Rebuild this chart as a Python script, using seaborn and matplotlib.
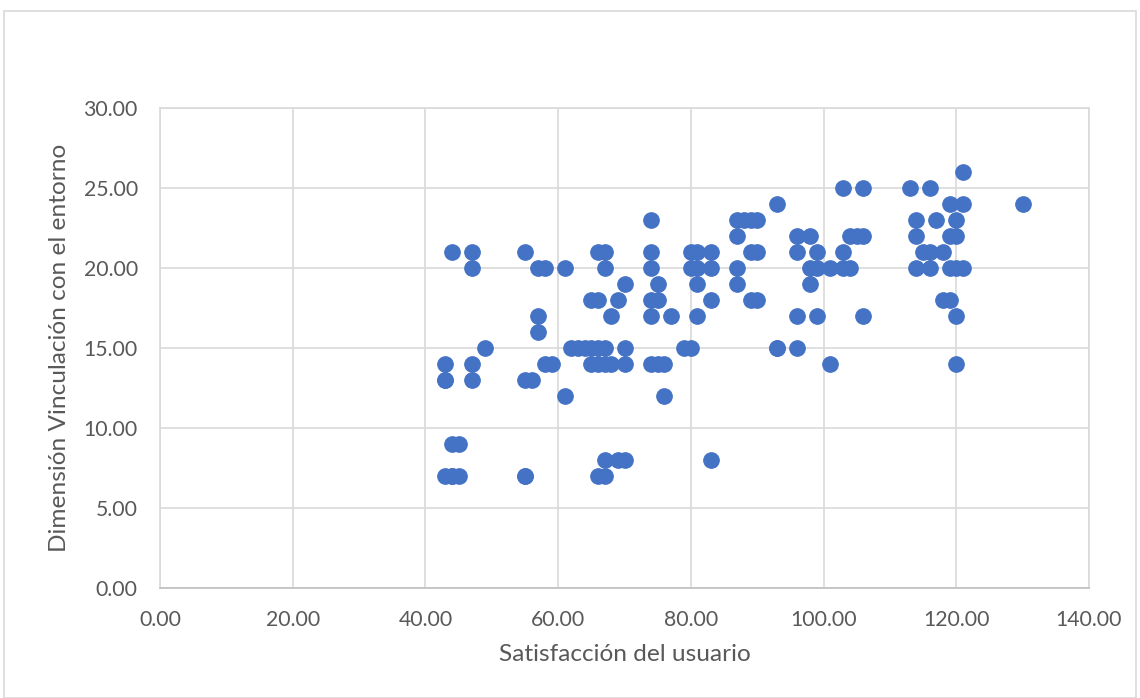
import matplotlib
matplotlib.use("Agg")
import matplotlib.pyplot as plt
import matplotlib.patches as mpatches
from matplotlib.ticker import FormatStrFormatter
import pandas as pd
import seaborn as sns

# Satisfacción del usuario (x) vs. Dimensión Vinculación con el entorno (y)
satisfaccion = [
    43, 43, 43, 44, 44, 45, 43, 44, 45, 44, 47, 47, 47, 47, 49,
    55, 55, 56, 55, 57, 57, 57, 58, 58, 59, 61, 61, 55,
    62, 63, 64, 65, 66, 67, 70, 65, 66, 67, 68, 70,
    66, 67, 67, 65, 66, 68, 69, 70, 66, 67, 67, 69, 70,
    74, 74, 74, 75, 74, 75, 74, 77, 74, 75, 76, 76,
    79, 80, 80, 81, 83, 80, 81, 83, 81, 83, 81, 83,
    87, 88, 89, 90, 87, 89, 90, 87, 87, 89, 90, 93, 93, 93,
    96, 98, 96, 99, 98, 99, 101, 98, 96, 99, 96, 101,
    103, 106, 104, 105, 106, 103, 103, 104, 106,
    113, 116, 121, 119, 121, 130, 114, 117, 120, 114, 119, 120,
    115, 116, 118, 114, 116, 119, 120, 121, 118, 119, 120, 120,
]
vinculacion = [
    14, 13, 7, 7, 9, 9, 13, 7, 7, 21, 21, 20, 14, 13, 15,
    13, 21, 13, 7, 17, 16, 20, 14, 20, 14, 12, 20, 7,
    15, 15, 15, 15, 15, 15, 15, 14, 14, 14, 14, 14,
    21, 21, 20, 18, 18, 17, 18, 19, 7, 7, 8, 8, 8,
    23, 21, 20, 19, 18, 18, 17, 17, 14, 14, 14, 12,
    15, 15, 21, 21, 21, 20, 20, 20, 19, 18, 17, 8,
    23, 23, 23, 23, 22, 21, 21, 20, 19, 18, 18, 24, 15, 15,
    22, 22, 21, 21, 20, 20, 20, 19, 17, 17, 15, 14,
    25, 25, 22, 22, 22, 21, 20, 20, 17,
    25, 25, 26, 24, 24, 24, 23, 23, 23, 22, 22, 22,
    21, 21, 21, 20, 20, 20, 20, 20, 18, 18, 17, 14,
]

df = pd.DataFrame({"x": satisfaccion, "y": vinculacion})

sns.set_theme(style="white")
plt.rcParams["font.family"] = ["Lato", "DejaVu Sans"]

fig = plt.figure(figsize=(11.4, 6.98), dpi=100)
ax = fig.add_axes([160 / 1140, 1 - 588 / 698, (1089 - 160) / 1140, (588 - 108) / 698])

sns.scatterplot(data=df, x="x", y="y", ax=ax, color="#4472C4", s=125,
                edgecolor="#4472C4", linewidth=0.8, zorder=3)

ax.set_xlim(0, 140)
ax.set_ylim(0, 30)
ax.set_xticks(range(0, 141, 20))
ax.set_yticks(range(0, 31, 5))
ax.xaxis.set_major_formatter(FormatStrFormatter("%.2f"))
ax.yaxis.set_major_formatter(FormatStrFormatter("%.2f"))
ax.grid(True, color="#D9D9D9", linewidth=1.2, zorder=0)
ax.set_axisbelow(True)
for side, sp in ax.spines.items():
    sp.set_color("#D9D9D9")
    sp.set_linewidth(1.2)
ax.spines["bottom"].set_color("#BFBFBF")
ax.tick_params(axis="both", length=0, labelsize=15.3, labelcolor="#595959")
ax.tick_params(axis="x", pad=16)
ax.tick_params(axis="y", pad=16)

ax.set_xlabel("Satisfacción del usuario", fontsize=17.6, color="#595959", labelpad=10)
ax.set_ylabel("Dimensión Vinculación con el entorno", fontsize=17.6, color="#595959", labelpad=10)

# Chart area border
fig.patches.append(mpatches.Rectangle((4 / 1140, 0.5 / 698), 1132 / 1140, 687 / 698,
                                      transform=fig.transFigure, fill=False,
                                      edgecolor="#D9D9D9", linewidth=1.2))

fig.savefig("out.png", dpi=100, facecolor="white")
